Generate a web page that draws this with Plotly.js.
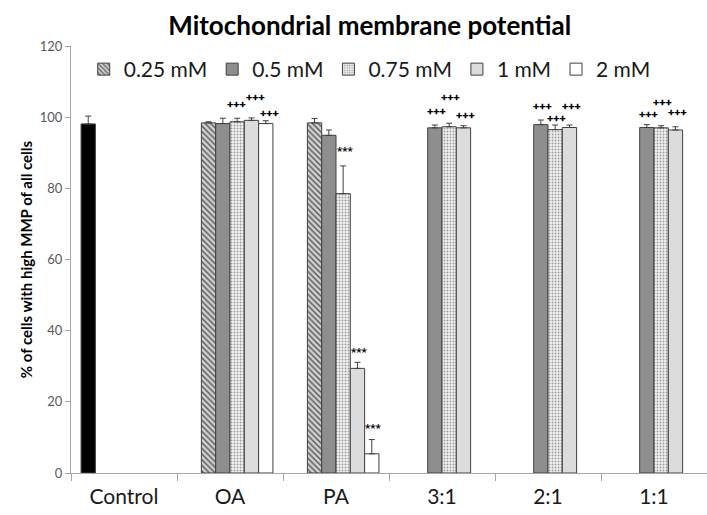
<!DOCTYPE html>
<html>
<head>
<meta charset="utf-8">
<script src="https://cdn.plot.ly/plotly-3.0.1.min.js"></script>
<style>html,body{margin:0;padding:0;overflow:hidden;background:#fff}#chart{width:707px;height:515px}</style>
</head>
<body>
<div id="chart"></div>
<script>
// ---- data ----
const categories = ['Control', 'OA', 'PA', '3:1', '2:1', '1:1'];
const seriesNames = ['Control', '0.25 mM', '0.5 mM', '0.75 mM', '1 mM', '2 mM'];

const controlVals = [98.1, null, null, null, null, null];
const controlErr  = [2.2, 0, 0, 0, 0, 0];

const v025 = [null, 98.4, 98.4, null, null, null];
const e025 = [0, 0.3, 1.2, 0, 0, 0];

const v05 = [null, 98.2, 94.9, 97.0, 97.9, 97.1];
const e05 = [0, 1.5, 1.5, 0.8, 1.3, 0.8];

const v075 = [null, 98.7, 78.5, 97.3, 96.5, 97.0];
const e075 = [0, 1.0, 7.8, 1.0, 1.3, 0.6];

const v1 = [null, 99.1, 29.4, 97.0, 97.1, 96.4];
const e1 = [0, 0.7, 1.7, 0.6, 0.7, 0.9];

const v2 = [null, 98.2, 5.4, null, null, null];
const e2 = [0, 0.8, 4.0, 0, 0, 0];

// significance markers per series and category
const sig05  = ['', '', '', '+++', '+++', '+++'];
const sig075 = ['', '+++', '***', '+++', '+++', '+++'];
const sig1   = ['', '+++', '***', '+++', '+++', '+++'];
const sig2   = ['', '+++', '***', '', '', ''];

const yTicks = [0, 20, 40, 60, 80, 100, 120];

// ---- styles ----
const edge = {color: '#404040', width: 1};
const errStyle = {color: '#404040', thickness: 1, width: 3};
const styles = [
  {color: '#000000', pattern: {shape: ''}},
  {color: '#c8c8c8', pattern: {shape: '\\', fgcolor: '#555555', bgcolor: '#d0d0d0', size: 4, solidity: 0.35}},
  {color: '#8e8e8e', pattern: {shape: ''}},
  {color: '#e6e6e6', pattern: {shape: '.', fgcolor: '#9a9a9a', bgcolor: '#f2f2f2', size: 3, solidity: 0.3}},
  {color: '#dcdcdc', pattern: {shape: ''}},
  {color: '#ffffff', pattern: {shape: ''}}
];
const vals = [controlVals, v025, v05, v075, v1, v2];
const errs = [controlErr, e025, e05, e075, e1, e2];

const traces = vals.map((v, i) => ({
  type: 'bar',
  name: seriesNames[i],
  x: categories,
  y: v,
  showlegend: i !== 0,
  marker: {color: styles[i].color, pattern: styles[i].pattern, line: edge},
  error_y: {type: 'data', symmetric: false, array: errs[i], arrayminus: errs[i].map(() => 0), visible: true,
            color: errStyle.color, thickness: errStyle.thickness, width: errStyle.width},
  hoverinfo: 'x+y+name'
}));

// annotation placement (pixel shifts above the error-bar tip)
const bargap = 0.19;
const nSlots = 6;
const slotW = (1 - bargap) / nSlots;
function slotX(ci, si) { return ci - (1 - bargap) / 2 + slotW * (si + 0.5); }

const sigSets = [[2, sig05, v05, e05], [3, sig075, v075, e075], [4, sig1, v1, e1], [5, sig2, v2, e2]];
// vertical / horizontal pixel offsets used to stagger the marks like the original
const stagger = {
  '1-3': 14, '1-4': 21, '1-5': 8,
  '2-3': 15, '2-4': 10, '2-5': 12,
  '3-2': 14, '3-3': 26, '3-4': 11,
  '4-2': 14, '4-3': 7, '4-4': 19,
  '5-2': 11, '5-3': 24, '5-4': 15
};
const nudgeX = {'1-3': -2, '1-4': 2, '1-5': 2};
const annotations = [];
sigSets.forEach(([si, sig, v, e]) => {
  sig.forEach((t, ci) => {
    if (!t) return;
    const key = ci + '-' + si;
    annotations.push({
      x: slotX(ci, si) + 0.015, y: v[ci] + e[ci], xref: 'x', yref: 'y',
      text: '<b>' + t + '</b>', showarrow: false, yanchor: 'middle',
      yshift: stagger[key] || 12, xshift: nudgeX[key] || 0,
      font: {family: 'Roboto, Arial', size: 11.5, color: '#000000'}
    });
  });
});

const layout = {
  width: 707, height: 515,
  margin: {l: 71, r: 0, t: 46, b: 42},
  paper_bgcolor: '#ffffff', plot_bgcolor: '#ffffff',
  barmode: 'group', bargap: bargap, bargroupgap: 0,
  title: {text: '<b>Mitochondrial membrane potential</b>', x: 0.523, xanchor: 'center', y: 0.95, yanchor: 'middle',
          font: {family: 'Lato, Open Sans, sans-serif', size: 26, color: '#000'}},
  showlegend: true,
  legend: {orientation: 'h', x: 0.02, xanchor: 'left', y: 0.945, yanchor: 'middle',
           font: {family: 'Lato, Open Sans, sans-serif', size: 21, color: '#1a1a1a'},
           bgcolor: 'rgba(0,0,0,0)', itemclick: false, tracegroupgap: 0},
  xaxis: {type: 'category', categoryorder: 'array', categoryarray: categories,
          showline: true, linecolor: '#a6a6a6', linewidth: 1,
          ticks: 'outside', tickson: 'boundaries', ticklen: 7, tickcolor: '#a6a6a6',
          ticklabelstandoff: 5,
          tickfont: {family: 'Lato, Open Sans, sans-serif', size: 21, color: '#1a1a1a'},
          showgrid: false, zeroline: false, fixedrange: true},
  yaxis: {range: [0, 120], tickvals: yTicks, ticktext: yTicks.map(String),
          showline: true, linecolor: '#a6a6a6', linewidth: 1,
          ticks: 'outside', ticklen: 5, tickcolor: '#a6a6a6',
          tickfont: {family: 'Lato, Open Sans, sans-serif', size: 13, color: '#595959'},
          showgrid: false, zeroline: false, fixedrange: true,
          title: {text: '<b>% of cells with high MMP of all cells</b>', standoff: 3,
                  font: {family: 'Lato, Open Sans, sans-serif', size: 15, color: '#000'}}},
  annotations: annotations
};

Plotly.newPlot('chart', traces, layout, {displayModeBar: false, staticPlot: true});
</script>
</body>
</html>
